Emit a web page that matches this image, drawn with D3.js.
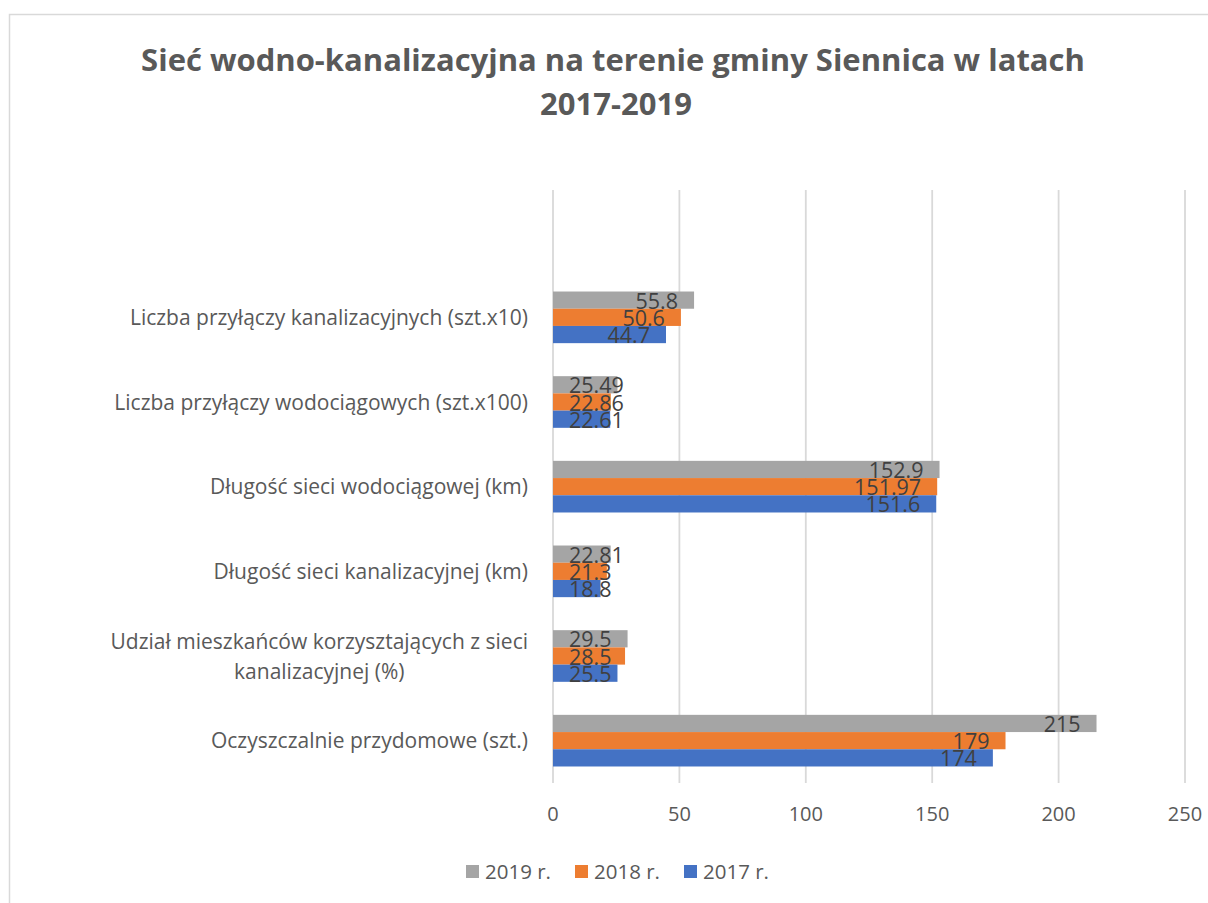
<!DOCTYPE html>
<html>
<head>
<meta charset="utf-8">
<script src="https://cdn.jsdelivr.net/npm/d3@7"></script>
<style>
  body { margin: 0; background: #fff; }
  svg { display: block; font-family: "Open Sans", sans-serif; }
</style>
</head>
<body>
<div id="chart"></div>
<script>
// Sieć wodno-kanalizacyjna — wykres słupkowy poziomy

const categories = [
  "Liczba przyłączy kanalizacyjnych (szt.x10)",
  "Liczba przyłączy wodociągowych (szt.x100)",
  "Długość sieci wodociągowej (km)",
  "Długość sieci kanalizacyjnej (km)",
  "Udział mieszkańców korzysztających z sieci kanalizacyjnej (%)",
  "Oczyszczalnie przydomowe (szt.)"
];

const series = ["2019 r.", "2018 r.", "2017 r."];
const values2019 = [55.8, 25.49, 152.9, 22.81, 29.5, 215];
const values2018 = [50.6, 22.86, 151.97, 21.3, 28.5, 179];
const values2017 = [44.7, 22.61, 151.6, 18.8, 25.5, 174];
const xTicks = [0, 50, 100, 150, 200, 250];
const colors = ["#A5A5A5", "#ED7D31", "#4472C4"];

const allValues = [values2019, values2018, values2017];

const width = 1208;
const height = 903;

const svg = d3.select("#chart")
  .append("svg")
  .attr("width", width)
  .attr("height", height);

// ramka wykresu
svg.append("rect")
  .attr("x", 9.5)
  .attr("y", 14.5)
  .attr("width", 1240)
  .attr("height", 950)
  .attr("fill", "#fff")
  .attr("stroke", "#D9D9D9")
  .attr("stroke-width", 1.5);

// Tytuł
const title = svg.append("text")
  .attr("text-anchor", "middle")
  .style("font-size", "31px")
  .style("font-weight", "700")
  .style("fill", "#595959");
title.append("tspan").attr("x", 613).attr("y", 71)
  .text("Sieć wodno-kanalizacyjna na terenie gminy Siennica w latach");
title.append("tspan").attr("x", 616).attr("y", 115)
  .text("2017-2019");

// Skale
const gridTop = 190;
const plotBottom = 783;
const x = d3.scaleLinear().domain([0, 250]).range([553, 1185]);

const y = d3.scaleBand()
  .domain(categories)
  .range([275, plotBottom])
  .paddingInner(0.39)
  .paddingOuter(0.195);

const ySub = d3.scaleBand()
  .domain(series)
  .range([0, y.bandwidth()]);

// Siatka
svg.append("g")
  .selectAll("line")
  .data(xTicks)
  .join("line")
  .attr("x1", d => x(d))
  .attr("x2", d => x(d))
  .attr("y1", gridTop)
  .attr("y2", plotBottom)
  .attr("stroke", "#D9D9D9")
  .attr("stroke-width", 1.8);

// Etykiety osi X
svg.append("g")
  .selectAll("text")
  .data(xTicks)
  .join("text")
  .attr("x", d => x(d))
  .attr("y", 821)
  .attr("text-anchor", "middle")
  .style("font-size", "20px")
  .style("fill", "#595959")
  .text(d => d);

// Słupki
const rows = [];
categories.forEach((c, i) => {
  series.forEach((s, j) => {
    rows.push({ cat: c, serie: s, value: allValues[j][i], color: colors[j] });
  });
});

svg.append("g")
  .selectAll("rect")
  .data(rows)
  .join("rect")
  .attr("x", x(0))
  .attr("y", d => y(d.cat) + ySub(d.serie))
  .attr("width", d => x(d.value) - x(0))
  .attr("height", ySub.bandwidth())
  .attr("fill", d => d.color);

// Wartości
const labels = svg.append("g")
  .selectAll("text")
  .data(rows)
  .join("text")
  .attr("y", d => y(d.cat) + ySub(d.serie) + ySub.bandwidth() / 2)
  .attr("dy", "0.4em")
  .style("font-size", "21.5px")
  .style("fill", "#404040")
  .text(d => d.value);

labels.each(function (d) {
  const w = this.getComputedTextLength();
  let start = x(d.value) - 16 - w;
  if (start < x(0) + 16) start = x(0) + 16;
  d3.select(this).attr("x", start);
});

// Kategorie (z zawijaniem)
const catG = svg.append("g")
  .style("font-size", "21px")
  .style("fill", "#595959");

const maxLabelWidth = 430;
categories.forEach(c => {
  const t = catG.append("text").attr("text-anchor", "middle");
  const words = c.split(" ");
  const lines = [];
  let line = [];
  const probe = catG.append("text");
  words.forEach(w => {
    line.push(w);
    probe.text(line.join(" "));
    if (probe.node().getComputedTextLength() > maxLabelWidth && line.length > 1) {
      line.pop();
      lines.push(line.join(" "));
      line = [w];
    }
  });
  lines.push(line.join(" "));
  let maxW = 0;
  lines.forEach(l => {
    probe.text(l);
    maxW = Math.max(maxW, probe.node().getComputedTextLength());
  });
  probe.remove();

  const cx = 528 - maxW / 2;
  const cy = y(c) + y.bandwidth() / 2;
  const lineH = 30;
  lines.forEach((l, k) => {
    t.append("tspan")
      .attr("x", cx)
      .attr("y", cy + (k - (lines.length - 1) / 2) * lineH)
      .attr("dy", "0.36em")
      .text(l);
  });
});

// Legenda
const legendItems = [
  { label: series[0], color: colors[0], x: 466 },
  { label: series[1], color: colors[1], x: 575 },
  { label: series[2], color: colors[2], x: 684 }
];
const legend = svg.append("g");
legend.selectAll("rect")
  .data(legendItems)
  .join("rect")
  .attr("x", d => d.x)
  .attr("y", 865)
  .attr("width", 13)
  .attr("height", 13)
  .attr("fill", d => d.color);
legend.selectAll("text")
  .data(legendItems)
  .join("text")
  .attr("x", d => d.x + 19)
  .attr("y", 871.5)
  .attr("dy", "0.36em")
  .style("font-size", "20.5px")
  .style("fill", "#595959")
  .text(d => d.label);
</script>
</body>
</html>
